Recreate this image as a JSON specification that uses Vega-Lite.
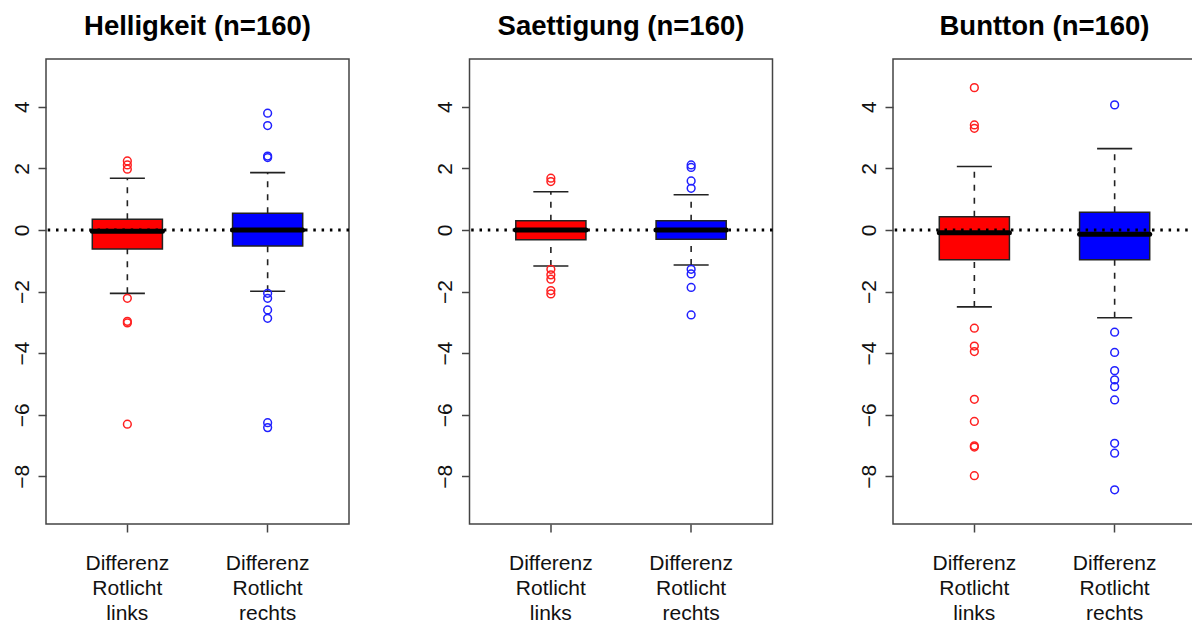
{
  "$schema": "https://vega.github.io/schema/vega-lite/v6.json",
  "autosize": {"type": "none"},
  "padding": {"left": 46, "top": 59, "right": 1146, "bottom": 564},
  "background": "white",
  "bounds": "flush",
  "spacing": 120.5,
  "datasets": {
    "boxes": [
      {"panel": "Helligkeit", "grp": "Differenz Rotlicht links", "q1": -0.62, "q3": 0.35, "med": -0.04, "lo": -2.06, "hi": 1.68},
      {"panel": "Helligkeit", "grp": "Differenz Rotlicht rechts", "q1": -0.52, "q3": 0.54, "med": 0.0, "lo": -1.99, "hi": 1.86},
      {"panel": "Saettigung", "grp": "Differenz Rotlicht links", "q1": -0.32, "q3": 0.3, "med": 0.0, "lo": -1.17, "hi": 1.24},
      {"panel": "Saettigung", "grp": "Differenz Rotlicht rechts", "q1": -0.3, "q3": 0.3, "med": 0.0, "lo": -1.14, "hi": 1.14},
      {"panel": "Buntton", "grp": "Differenz Rotlicht links", "q1": -0.97, "q3": 0.43, "med": -0.09, "lo": -2.5, "hi": 2.06},
      {"panel": "Buntton", "grp": "Differenz Rotlicht rechts", "q1": -0.97, "q3": 0.57, "med": -0.14, "lo": -2.85, "hi": 2.64}
    ],
    "outliers": [
      {"panel": "Helligkeit", "grp": "Differenz Rotlicht links", "v": 2.24},
      {"panel": "Helligkeit", "grp": "Differenz Rotlicht links", "v": 2.11},
      {"panel": "Helligkeit", "grp": "Differenz Rotlicht links", "v": 1.97},
      {"panel": "Helligkeit", "grp": "Differenz Rotlicht links", "v": -2.22},
      {"panel": "Helligkeit", "grp": "Differenz Rotlicht links", "v": -2.97},
      {"panel": "Helligkeit", "grp": "Differenz Rotlicht links", "v": -3.02},
      {"panel": "Helligkeit", "grp": "Differenz Rotlicht links", "v": -6.31},
      {"panel": "Helligkeit", "grp": "Differenz Rotlicht rechts", "v": 3.79},
      {"panel": "Helligkeit", "grp": "Differenz Rotlicht rechts", "v": 3.39},
      {"panel": "Helligkeit", "grp": "Differenz Rotlicht rechts", "v": 2.4},
      {"panel": "Helligkeit", "grp": "Differenz Rotlicht rechts", "v": 2.35},
      {"panel": "Helligkeit", "grp": "Differenz Rotlicht rechts", "v": -2.06},
      {"panel": "Helligkeit", "grp": "Differenz Rotlicht rechts", "v": -2.22},
      {"panel": "Helligkeit", "grp": "Differenz Rotlicht rechts", "v": -2.6},
      {"panel": "Helligkeit", "grp": "Differenz Rotlicht rechts", "v": -2.87},
      {"panel": "Helligkeit", "grp": "Differenz Rotlicht rechts", "v": -6.26},
      {"panel": "Helligkeit", "grp": "Differenz Rotlicht rechts", "v": -6.42},
      {"panel": "Saettigung", "grp": "Differenz Rotlicht links", "v": 1.68},
      {"panel": "Saettigung", "grp": "Differenz Rotlicht links", "v": 1.57},
      {"panel": "Saettigung", "grp": "Differenz Rotlicht links", "v": -1.28},
      {"panel": "Saettigung", "grp": "Differenz Rotlicht links", "v": -1.46},
      {"panel": "Saettigung", "grp": "Differenz Rotlicht links", "v": -1.6},
      {"panel": "Saettigung", "grp": "Differenz Rotlicht links", "v": -1.97},
      {"panel": "Saettigung", "grp": "Differenz Rotlicht links", "v": -2.08},
      {"panel": "Saettigung", "grp": "Differenz Rotlicht rechts", "v": 2.11},
      {"panel": "Saettigung", "grp": "Differenz Rotlicht rechts", "v": 2.03},
      {"panel": "Saettigung", "grp": "Differenz Rotlicht rechts", "v": 1.59},
      {"panel": "Saettigung", "grp": "Differenz Rotlicht rechts", "v": 1.35},
      {"panel": "Saettigung", "grp": "Differenz Rotlicht rechts", "v": -1.28},
      {"panel": "Saettigung", "grp": "Differenz Rotlicht rechts", "v": -1.43},
      {"panel": "Saettigung", "grp": "Differenz Rotlicht rechts", "v": -1.87},
      {"panel": "Saettigung", "grp": "Differenz Rotlicht rechts", "v": -2.76},
      {"panel": "Buntton", "grp": "Differenz Rotlicht links", "v": 4.62},
      {"panel": "Buntton", "grp": "Differenz Rotlicht links", "v": 3.41},
      {"panel": "Buntton", "grp": "Differenz Rotlicht links", "v": 3.3},
      {"panel": "Buntton", "grp": "Differenz Rotlicht links", "v": -3.19},
      {"panel": "Buntton", "grp": "Differenz Rotlicht links", "v": -3.77},
      {"panel": "Buntton", "grp": "Differenz Rotlicht links", "v": -3.95},
      {"panel": "Buntton", "grp": "Differenz Rotlicht links", "v": -5.5},
      {"panel": "Buntton", "grp": "Differenz Rotlicht links", "v": -6.22},
      {"panel": "Buntton", "grp": "Differenz Rotlicht links", "v": -7.01},
      {"panel": "Buntton", "grp": "Differenz Rotlicht links", "v": -7.05},
      {"panel": "Buntton", "grp": "Differenz Rotlicht links", "v": -7.98},
      {"panel": "Buntton", "grp": "Differenz Rotlicht rechts", "v": 4.06},
      {"panel": "Buntton", "grp": "Differenz Rotlicht rechts", "v": -3.32},
      {"panel": "Buntton", "grp": "Differenz Rotlicht rechts", "v": -3.98},
      {"panel": "Buntton", "grp": "Differenz Rotlicht rechts", "v": -4.57},
      {"panel": "Buntton", "grp": "Differenz Rotlicht rechts", "v": -4.87},
      {"panel": "Buntton", "grp": "Differenz Rotlicht rechts", "v": -5.09},
      {"panel": "Buntton", "grp": "Differenz Rotlicht rechts", "v": -5.52},
      {"panel": "Buntton", "grp": "Differenz Rotlicht rechts", "v": -6.93},
      {"panel": "Buntton", "grp": "Differenz Rotlicht rechts", "v": -7.25},
      {"panel": "Buntton", "grp": "Differenz Rotlicht rechts", "v": -8.44}
    ]
  },
  "config": {
    "font": "Liberation Sans",
    "view": {"stroke": "#444444", "strokeWidth": 1.5},
    "title": {"fontSize": 27.5, "fontWeight": "bold", "font": "Liberation Sans", "color": "#000000", "baseline": "alphabetic", "offset": 19},
    "axis": {"grid": false, "domain": false, "title": null, "labelFont": "Liberation Sans", "labelFontSize": 21, "labelColor": "#111111", "tickColor": "#444444", "tickWidth": 1.5, "tickSize": 8},
    "axisX": {"labelAngle": 0, "labelExpr": "split(datum.label, ' ')", "labelLineHeight": 25, "labelPadding": 20, "labelLimit": 0}
  },
  "hconcat": [
    {
      "title": "Helligkeit (n=160)",
      "width": 303, "height": 465,
      "layer": [
        {"data": {"name": "boxes"}, "transform": [{"filter": "datum.panel == 'Helligkeit'"}], "layer": [
          {"mark": {"type": "rule", "strokeDash": [6, 7], "strokeWidth": 1.6, "color": "#222222"}, "encoding": {"x": {"field": "grp", "type": "nominal", "scale": {"type": "band", "paddingInner": 0.5, "paddingOuter": 0.33}}, "y": {"field": "q3", "type": "quantitative", "scale": {"domain": [-9.55, 5.55], "nice": false, "zero": false}, "axis": {"values": [-8, -6, -4, -2, 0, 2, 4], "labelAngle": -90, "labelPadding": 6}}, "y2": {"field": "hi"}}},
          {"mark": {"type": "rule", "strokeDash": [6, 7], "strokeWidth": 1.6, "color": "#222222"}, "encoding": {"x": {"field": "grp", "type": "nominal"}, "y": {"field": "lo", "type": "quantitative"}, "y2": {"field": "q1"}}},
          {"mark": {"type": "rule", "strokeWidth": 1.6, "color": "#222222"}, "encoding": {"x": {"field": "grp", "type": "nominal", "bandPosition": 0.25}, "x2": {"field": "grp", "bandPosition": 0.75}, "y": {"field": "hi", "type": "quantitative"}}},
          {"mark": {"type": "rule", "strokeWidth": 1.6, "color": "#222222"}, "encoding": {"x": {"field": "grp", "type": "nominal", "bandPosition": 0.25}, "x2": {"field": "grp", "bandPosition": 0.75}, "y": {"field": "lo", "type": "quantitative"}}},
          {"mark": {"type": "bar", "stroke": "#222222", "strokeWidth": 1.5, "opacity": 1}, "encoding": {"x": {"field": "grp", "type": "nominal"}, "y": {"field": "q1", "type": "quantitative"}, "y2": {"field": "q3"}, "fill": {"field": "grp", "type": "nominal", "scale": {"range": ["#FF0000", "#0000FF"]}, "legend": null}}},
          {"mark": {"type": "rule", "strokeWidth": 5, "color": "#000000", "strokeCap": "round"}, "encoding": {"x": {"field": "grp", "type": "nominal", "bandPosition": 0}, "x2": {"field": "grp", "bandPosition": 1}, "y": {"field": "med", "type": "quantitative"}}}
        ]},
        {"data": {"name": "outliers"}, "transform": [{"filter": "datum.panel == 'Helligkeit'"}], "mark": {"type": "point", "filled": false, "size": 60, "strokeWidth": 1.5, "opacity": 1}, "encoding": {"x": {"field": "grp", "type": "nominal"}, "y": {"field": "v", "type": "quantitative"}, "stroke": {"field": "grp", "type": "nominal", "scale": {"range": ["#FF2020", "#2020FF"]}, "legend": null}}},
        {"data": {"values": [{}]}, "mark": {"type": "rule", "strokeDash": [2.5, 5.8], "strokeWidth": 3, "color": "#000000"}, "encoding": {"y": {"datum": 0, "type": "quantitative"}}}
      ]
    },
    {
      "title": "Saettigung (n=160)",
      "width": 303, "height": 465,
      "layer": [
        {"data": {"name": "boxes"}, "transform": [{"filter": "datum.panel == 'Saettigung'"}], "layer": [
          {"mark": {"type": "rule", "strokeDash": [6, 7], "strokeWidth": 1.6, "color": "#222222"}, "encoding": {"x": {"field": "grp", "type": "nominal", "scale": {"type": "band", "paddingInner": 0.5, "paddingOuter": 0.33}}, "y": {"field": "q3", "type": "quantitative", "scale": {"domain": [-9.55, 5.55], "nice": false, "zero": false}, "axis": {"values": [-8, -6, -4, -2, 0, 2, 4], "labelAngle": -90, "labelPadding": 6}}, "y2": {"field": "hi"}}},
          {"mark": {"type": "rule", "strokeDash": [6, 7], "strokeWidth": 1.6, "color": "#222222"}, "encoding": {"x": {"field": "grp", "type": "nominal"}, "y": {"field": "lo", "type": "quantitative"}, "y2": {"field": "q1"}}},
          {"mark": {"type": "rule", "strokeWidth": 1.6, "color": "#222222"}, "encoding": {"x": {"field": "grp", "type": "nominal", "bandPosition": 0.25}, "x2": {"field": "grp", "bandPosition": 0.75}, "y": {"field": "hi", "type": "quantitative"}}},
          {"mark": {"type": "rule", "strokeWidth": 1.6, "color": "#222222"}, "encoding": {"x": {"field": "grp", "type": "nominal", "bandPosition": 0.25}, "x2": {"field": "grp", "bandPosition": 0.75}, "y": {"field": "lo", "type": "quantitative"}}},
          {"mark": {"type": "bar", "stroke": "#222222", "strokeWidth": 1.5, "opacity": 1}, "encoding": {"x": {"field": "grp", "type": "nominal"}, "y": {"field": "q1", "type": "quantitative"}, "y2": {"field": "q3"}, "fill": {"field": "grp", "type": "nominal", "scale": {"range": ["#FF0000", "#0000FF"]}, "legend": null}}},
          {"mark": {"type": "rule", "strokeWidth": 5, "color": "#000000", "strokeCap": "round"}, "encoding": {"x": {"field": "grp", "type": "nominal", "bandPosition": 0}, "x2": {"field": "grp", "bandPosition": 1}, "y": {"field": "med", "type": "quantitative"}}}
        ]},
        {"data": {"name": "outliers"}, "transform": [{"filter": "datum.panel == 'Saettigung'"}], "mark": {"type": "point", "filled": false, "size": 60, "strokeWidth": 1.5, "opacity": 1}, "encoding": {"x": {"field": "grp", "type": "nominal"}, "y": {"field": "v", "type": "quantitative"}, "stroke": {"field": "grp", "type": "nominal", "scale": {"range": ["#FF2020", "#2020FF"]}, "legend": null}}},
        {"data": {"values": [{}]}, "mark": {"type": "rule", "strokeDash": [2.5, 5.8], "strokeWidth": 3, "color": "#000000"}, "encoding": {"y": {"datum": 0, "type": "quantitative"}}}
      ]
    },
    {
      "title": "Buntton (n=160)",
      "width": 303, "height": 465,
      "layer": [
        {"data": {"name": "boxes"}, "transform": [{"filter": "datum.panel == 'Buntton'"}], "layer": [
          {"mark": {"type": "rule", "strokeDash": [6, 7], "strokeWidth": 1.6, "color": "#222222"}, "encoding": {"x": {"field": "grp", "type": "nominal", "scale": {"type": "band", "paddingInner": 0.5, "paddingOuter": 0.33}}, "y": {"field": "q3", "type": "quantitative", "scale": {"domain": [-9.55, 5.55], "nice": false, "zero": false}, "axis": {"values": [-8, -6, -4, -2, 0, 2, 4], "labelAngle": -90, "labelPadding": 6}}, "y2": {"field": "hi"}}},
          {"mark": {"type": "rule", "strokeDash": [6, 7], "strokeWidth": 1.6, "color": "#222222"}, "encoding": {"x": {"field": "grp", "type": "nominal"}, "y": {"field": "lo", "type": "quantitative"}, "y2": {"field": "q1"}}},
          {"mark": {"type": "rule", "strokeWidth": 1.6, "color": "#222222"}, "encoding": {"x": {"field": "grp", "type": "nominal", "bandPosition": 0.25}, "x2": {"field": "grp", "bandPosition": 0.75}, "y": {"field": "hi", "type": "quantitative"}}},
          {"mark": {"type": "rule", "strokeWidth": 1.6, "color": "#222222"}, "encoding": {"x": {"field": "grp", "type": "nominal", "bandPosition": 0.25}, "x2": {"field": "grp", "bandPosition": 0.75}, "y": {"field": "lo", "type": "quantitative"}}},
          {"mark": {"type": "bar", "stroke": "#222222", "strokeWidth": 1.5, "opacity": 1}, "encoding": {"x": {"field": "grp", "type": "nominal"}, "y": {"field": "q1", "type": "quantitative"}, "y2": {"field": "q3"}, "fill": {"field": "grp", "type": "nominal", "scale": {"range": ["#FF0000", "#0000FF"]}, "legend": null}}},
          {"mark": {"type": "rule", "strokeWidth": 5, "color": "#000000", "strokeCap": "round"}, "encoding": {"x": {"field": "grp", "type": "nominal", "bandPosition": 0}, "x2": {"field": "grp", "bandPosition": 1}, "y": {"field": "med", "type": "quantitative"}}}
        ]},
        {"data": {"name": "outliers"}, "transform": [{"filter": "datum.panel == 'Buntton'"}], "mark": {"type": "point", "filled": false, "size": 60, "strokeWidth": 1.5, "opacity": 1}, "encoding": {"x": {"field": "grp", "type": "nominal"}, "y": {"field": "v", "type": "quantitative"}, "stroke": {"field": "grp", "type": "nominal", "scale": {"range": ["#FF2020", "#2020FF"]}, "legend": null}}},
        {"data": {"values": [{}]}, "mark": {"type": "rule", "strokeDash": [2.5, 5.8], "strokeWidth": 3, "color": "#000000"}, "encoding": {"y": {"datum": 0, "type": "quantitative"}}}
      ]
    }
  ]
}
